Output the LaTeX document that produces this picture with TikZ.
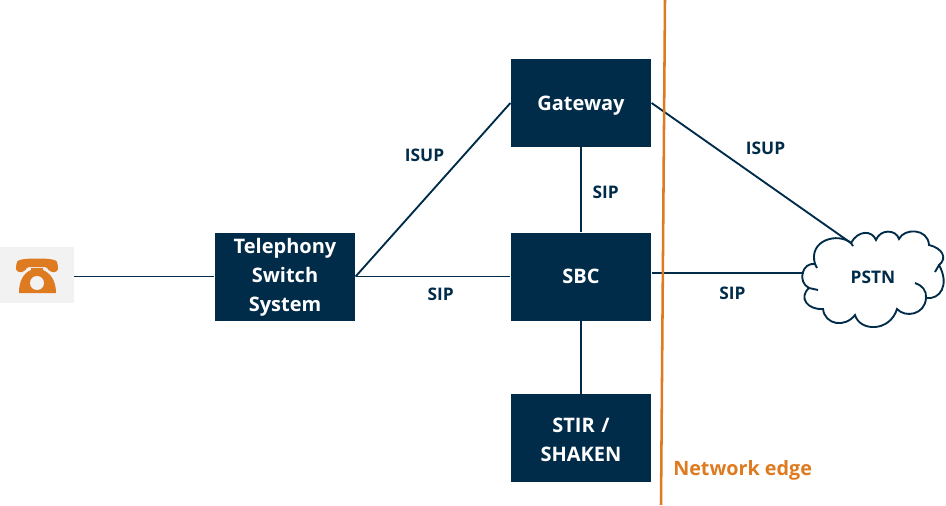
\documentclass[tikz,border=0pt]{standalone}
\usepackage{fontspec}
\setmainfont{Open Sans}
\usetikzlibrary{positioning}
\definecolor{navy}{HTML}{002B49}
\definecolor{edgeorange}{HTML}{DE7A1F}
\definecolor{phonegray}{HTML}{F2F2F2}
\tikzstyle{netbox}=[rectangle, fill=navy, text=white, text centered, font=\fontsize{15}{21.75}\selectfont\bfseries,
minimum width=105.5pt, minimum height=66pt, text width=100pt, inner sep=0pt,
execute at end node=\strut]
\tikzstyle{textdrop}=[execute at begin node={\rule{0pt}{#1}}]
\tikzstyle{link}=[draw=navy, line width=1.4pt]
\tikzstyle{proto}=[text=navy, font=\fontsize{13}{15}\selectfont\bfseries, inner sep=0pt]

\begin{document}
\begin{tikzpicture}[x=0.75pt,y=-0.75pt]
    \useasboundingbox (0,0) rectangle (946,506);
    % phone
    \node (phone)[fill=phonegray, minimum width=55.5pt, minimum height=42pt, inner sep=0pt] at (37,275) {};
    \fill[edgeorange, rounded corners=2.5pt] (16,272) -- (16,265) .. controls (18,259) and (30,258.5) .. (37,258.5) .. controls (44,258.5) and (56,259) .. (58,265) -- (58,272) -- (49,272) -- (48,267) -- (26,267) -- (25,272) -- cycle;
    \fill[edgeorange] (19,293) .. controls (19,280) and (24,273) .. (31,270) -- (31,268) -- (43,268) -- (43,270) .. controls (50,273) and (56,280) .. (56,293) -- cycle;
    \fill[phonegray] (37,283) circle (7);

    % cloud
    \draw [link, fill=white] (815,264) .. controls (808,240) and (838,232) .. (851,243)
        .. controls (858,230) and (872,230) .. (876,240)
        .. controls (880,229) and (896,229) .. (899,239)
        .. controls (904,228) and (928,228) .. (929,245)
        .. controls (942,248) and (948,258) .. (939,265)
        .. controls (950,285) and (940,300) .. (926,298)
        .. controls (925,315) and (905,318) .. (897,309)
        .. controls (890,332) and (860,332) .. (855,315)
        .. controls (845,328) and (825,325) .. (823,309)
        .. controls (808,310) and (798,298) .. (809,288)
        .. controls (797,282) and (802,262) .. cycle;
    \draw [link] (915,283) .. controls (922,285) and (927,291) .. (926,298);
    \draw [link] (939,265) -- (935,272);
    \draw [link] (809,288) -- (818,290);
    \draw [link] (815,264) -- (817,268);
    \draw [link] (851,243) -- (853,246);

    \node (switch)[netbox, textdrop=15.9pt] at (285,276.5) {Telephony\\Switch\\System};
    \node (gateway)[netbox, textdrop=17.7pt] at (581,103) {Gateway};
    \node (sbc)[netbox, textdrop=17.7pt] at (581,276.5) {SBC};
    \node (stir)[netbox, textdrop=20.2pt] at (581,438) {STIR /\\SHAKEN};
    \node (pstn)[inner sep=0pt, text=navy, font=\fontsize{13}{15}\selectfont\bfseries] at (873,277) {PSTN};
    \coordinate (pstntop) at (851,243);
    \coordinate (pstnleft) at (804,273);

    \draw [link] (phone.east |- switch.west) -- (switch.west);
    \draw [link] (switch.east) -- (gateway.west);
    \draw [link] (switch.east) -- node [proto, pos=0.55, below=8pt] {SIP} (sbc.west);
    \draw [link] (gateway.south) -- node [proto, right=8pt, pos=0.53] {SIP} (sbc.north);
    \draw [link] (sbc.south) -- (stir.north);
    \draw [link] (gateway.east) -- (pstntop);
    \draw [link] (sbc.east |- pstnleft) -- node [proto, pos=0.53, below=10pt] {SIP} (pstnleft);

    \node (isupleft)[proto] at (424.5,155) {ISUP};
    \node (isupright)[proto] at (765.5,148) {ISUP};

    % edge of the network
    \coordinate (edgetop) at (665,0);
    \coordinate (edgebottom) at (661,505);
    \draw [edgeorange, line width=1.9pt] (edgetop) -- (edgebottom);
    \node (edgelabel)[text=edgeorange, font=\fontsize{14.8}{18}\selectfont\bfseries, anchor=west, inner sep=0pt] at (673,470) {Network edge};
\end{tikzpicture}
\end{document}
